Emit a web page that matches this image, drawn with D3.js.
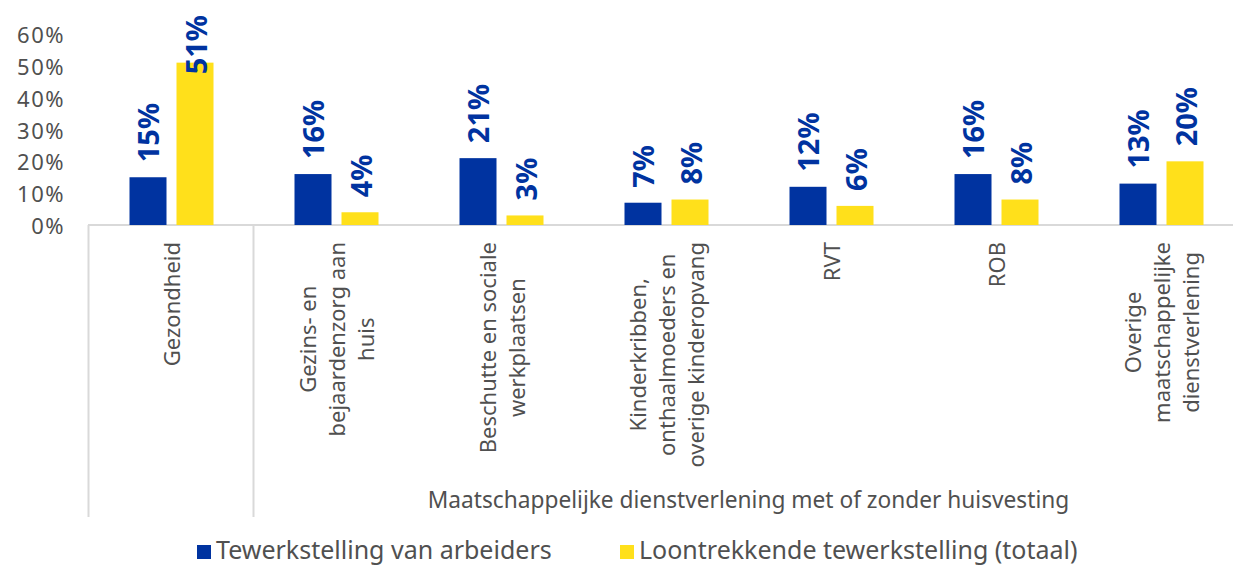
<!DOCTYPE html>
<html>
<head>
<meta charset="utf-8">
<script src="https://cdn.jsdelivr.net/npm/d3@7"></script>
<style>
  body { margin: 0; background: #fff; }
  svg { display: block; font-family: "Noto Sans", sans-serif; }
</style>
</head>
<body>
<svg id="chart" width="1233" height="566"></svg>
<script>
// categories (lines of each label) and values
var categories = [
    ["Gezondheid"],
    ["Gezins- en", "bejaardenzorg aan", "huis"],
    ["Beschutte en sociale", "werkplaatsen"],
    ["Kinderkribben,", "onthaalmoeders en", "overige kinderopvang"],
    ["RVT"],
    ["ROB"],
    ["Overige", "maatschappelijke", "dienstverlening"]
];
var seriesNames = ["Tewerkstelling van arbeiders", "Loontrekkende tewerkstelling (totaal)"];
var arbeiders = [0.15, 0.16, 0.21, 0.07, 0.12, 0.16, 0.13];
var loontrekkend = [0.51, 0.04, 0.03, 0.08, 0.06, 0.08, 0.20];
var yTicks = [0, 0.1, 0.2, 0.3, 0.4, 0.5, 0.6];
var groupLabel = "Maatschappelijke dienstverlening met of zonder huisvesting";

var colors = ["#0033a0", "#ffe01b"];
var textGray = "#505050";
var lineGray = "#d9d9d9";

var svg = d3.select("#chart");

var axisY = 225;
var x0 = d3.scaleBand()
    .domain(d3.range(categories.length))
    .range([88.5, 88.5 + 165 * categories.length])
    .padding(0);
var x1 = d3.scaleBand()
    .domain([0, 1])
    .range([41, 125])
    .paddingInner(0.2128);
var y = d3.scaleLinear().domain([0, 0.6]).range([axisY, 34]);

// y tick labels
svg.append("g").selectAll("text")
    .data(yTicks)
    .enter().append("text")
    .attr("x", 65)
    .attr("y", function (d) { return y(d); })
    .attr("text-anchor", "end")
    .attr("dominant-baseline", "central")
    .attr("font-size", 22)
    .attr("letter-spacing", 1.5)
    .attr("fill", textGray)
    .text(function (d) { return d3.format(".0%")(d); });

// axis lines
svg.append("line")
    .attr("x1", 88).attr("x2", 1233)
    .attr("y1", axisY).attr("y2", axisY)
    .attr("stroke", lineGray).attr("stroke-width", 2);
[x0(0), x0(1)].forEach(function (xv) {
    svg.append("line")
        .attr("x1", xv).attr("x2", xv)
        .attr("y1", axisY).attr("y2", 517)
        .attr("stroke", lineGray).attr("stroke-width", 2);
});

// bars
var rows = categories.map(function (c, i) {
    return { i: i, values: [arbeiders[i], loontrekkend[i]] };
});
var groups = svg.append("g").selectAll("g")
    .data(rows)
    .enter().append("g")
    .attr("transform", function (d) { return "translate(" + x0(d.i) + ",0)"; });

groups.selectAll("rect")
    .data(function (d) { return d.values.map(function (v, s) { return { s: s, v: v }; }); })
    .enter().append("rect")
    .attr("x", function (d) { return x1(d.s); })
    .attr("y", function (d) { return y(d.v); })
    .attr("width", x1.bandwidth())
    .attr("height", function (d) { return axisY - y(d.v); })
    .attr("fill", function (d) { return colors[d.s]; });

// value labels, rotated, clamped at the top of the plot
groups.selectAll("text.val")
    .data(function (d) { return d.values.map(function (v, s) { return { s: s, v: v }; }); })
    .enter().append("text")
    .attr("class", "val")
    .attr("font-size", 29)
    .attr("font-weight", "bold")
    .attr("fill", colors[0])
    .attr("dominant-baseline", "central")
    .text(function (d) { return d3.format(".0%")(d.v); })
    .attr("transform", function (d) {
        var len = this.getComputedTextLength();
        var start = y(d.v) - 15;
        if (start - len < 15) start = 15 + len;
        var cx = x1(d.s) + x1.bandwidth() / 2;
        return "translate(" + cx + "," + start + ") rotate(-90)";
    });

// category labels
groups.each(function (d) {
    var g = d3.select(this);
    var lines = categories[d.i];
    var cx = x0.bandwidth() / 2;
    var t = g.append("g");
    var texts = t.selectAll("text")
        .data(lines)
        .enter().append("text")
        .attr("font-size", 22)
        .attr("fill", textGray)
        .attr("text-anchor", "middle")
        .attr("dominant-baseline", "central")
        .text(function (l) { return l; });
    var maxLen = 0;
    texts.each(function () { maxLen = Math.max(maxLen, this.getComputedTextLength()); });
    var cy = 242 + maxLen / 2;
    texts.attr("transform", function (l, k) {
        var off = (k - (lines.length - 1) / 2) * 29;
        return "translate(" + (cx + off) + "," + cy + ") rotate(-90)";
    });
});

// group label
svg.append("text")
    .attr("x", (x0(1) + x0.range()[1]) / 2)
    .attr("y", 508)
    .attr("text-anchor", "middle")
    .attr("font-size", 22.7)
    .attr("fill", textGray)
    .text(groupLabel);

// legend
var legendX = [197, 620];
var legend = svg.append("g").selectAll("g")
    .data(seriesNames)
    .enter().append("g")
    .attr("transform", function (d, i) { return "translate(" + legendX[i] + ",0)"; });
legend.append("rect")
    .attr("x", 0).attr("y", 545)
    .attr("width", 14).attr("height", 14)
    .attr("fill", function (d, i) { return colors[i]; });
legend.append("text")
    .attr("x", 19).attr("y", 559)
    .attr("font-size", 25)
    .attr("fill", textGray)
    .text(function (d) { return d; });
</script>
</body>
</html>
